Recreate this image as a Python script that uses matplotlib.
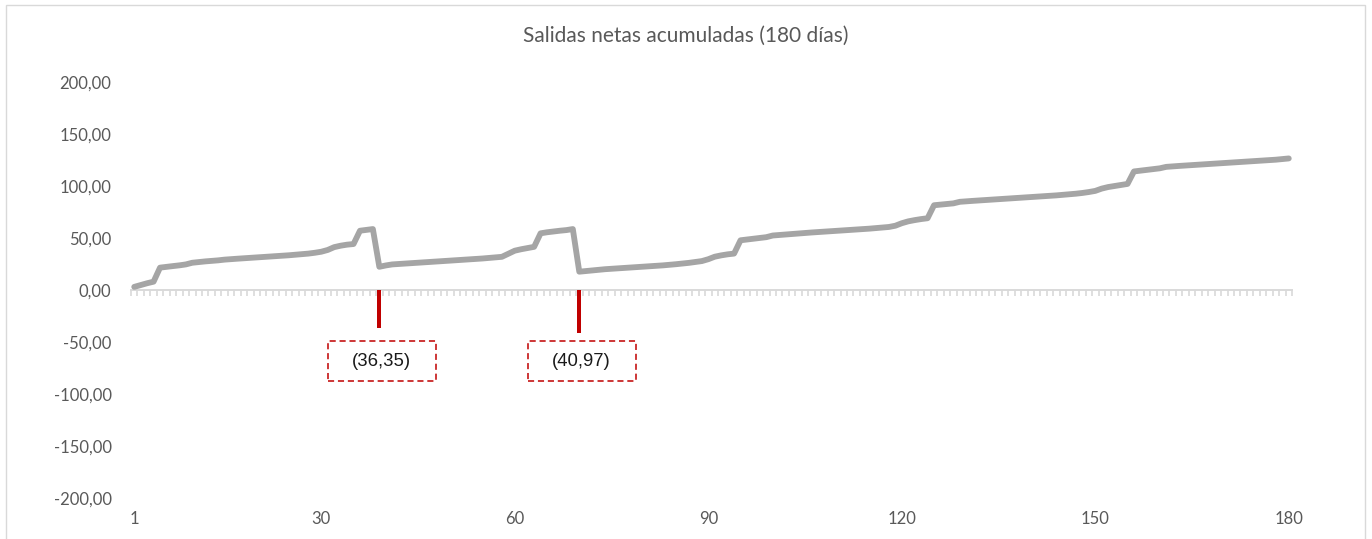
import numpy as np
import matplotlib.pyplot as plt
from matplotlib.patches import Rectangle
from matplotlib.ticker import FuncFormatter, NullFormatter

# datos
dias = np.arange(1, 181)
salidas_acum = [
    3.0, 4.8, 6.5, 8.0, 21.5, 22.3, 23.0, 23.7, 24.6, 26.2,
    26.9, 27.5, 28.0, 28.5, 29.2, 29.7, 30.1, 30.5, 30.9, 31.3,
    31.8, 32.2, 32.6, 33.0, 33.4, 33.9, 34.4, 35.0, 35.8, 36.8,
    38.5, 41.2, 42.6, 43.6, 44.2, 57.0, 57.8, 58.6, 22.3, 23.6,
    24.6, 25.0, 25.4, 25.8, 26.3, 26.7, 27.1, 27.5, 27.9, 28.3,
    28.7, 29.1, 29.5, 29.9, 30.3, 30.8, 31.3, 31.9, 34.8, 37.8,
    39.2, 40.4, 41.5, 54.5, 55.5, 56.3, 57.0, 57.6, 58.6, 17.6,
    18.2, 18.8, 19.4, 20.0, 20.4, 20.8, 21.2, 21.6, 22.0, 22.5,
    22.9, 23.3, 23.7, 24.2, 24.8, 25.4, 26.1, 26.9, 27.8, 29.6,
    32.0, 33.3, 34.3, 35.0, 47.8, 48.6, 49.3, 50.0, 50.8, 52.4,
    52.9, 53.4, 53.9, 54.4, 54.9, 55.3, 55.7, 56.1, 56.5, 56.9,
    57.3, 57.7, 58.1, 58.5, 59.0, 59.5, 60.0, 60.6, 61.8, 64.2,
    66.0, 67.2, 68.2, 69.0, 81.5, 82.1, 82.7, 83.3, 84.8, 85.3,
    85.7, 86.1, 86.5, 87.0, 87.4, 87.8, 88.2, 88.6, 89.0, 89.4,
    89.8, 90.2, 90.6, 91.0, 91.5, 92.0, 92.6, 93.3, 94.2, 95.3,
    97.5, 99.0, 100.0, 101.0, 102.0, 114.0, 114.8, 115.5, 116.2, 117.0,
    118.4, 118.9, 119.3, 119.7, 120.1, 120.5, 120.9, 121.3, 121.7, 122.1,
    122.5, 122.9, 123.3, 123.7, 124.0, 124.4, 124.8, 125.3, 125.9, 126.5,
]
caida_dias = [39, 70]
caida_valores = [-36.35, -40.97]
caida_etiquetas = ["(36,35)", "(40,97)"]
x_ticks = [1, 30, 60, 90, 120, 150, 180]
y_ticks = [-200, -150, -100, -50, 0, 50, 100, 150, 200]
titulo = "Salidas netas acumuladas (180 días)"

gris_txt = "#595959"
gris_eje = "#D9D9D9"
rojo = "#C00000"

plt.rcParams['font.family'] = ['Lato', 'DejaVu Sans']

W, H = 1372, 539
fig = plt.figure(figsize=(W / 100, H / 100), dpi=100)
ax = fig.add_axes([131 / W, 1 - 498 / H, (1292 - 131) / W, (498 - 82) / H])

ax.plot(dias, salidas_acum, color="#A5A5A5", lw=4.2,
        solid_joinstyle="round", solid_capstyle="round", zorder=3)
ax.bar(caida_dias, caida_valores, width=0.62, color=rojo, zorder=5)

# etiquetas de las caidas en cajas punteadas
px_x = (1292 - 131) / 180.0      # pixeles por dia
px_y = (498 - 82) / 400.0        # pixeles por unidad
caja_w = 108 / px_x
caja_h = 40 / px_y
etq_y = -68.3
for d, txt in zip(caida_dias, caida_etiquetas):
    cx = d + 0.35
    ax.add_patch(Rectangle((cx - caja_w / 2, etq_y - caja_h / 2), caja_w, caja_h,
                           fill=False, ec=rojo, lw=1.1, ls=(0, (4, 2.5)), zorder=6))
    ax.text(cx, etq_y, txt, ha="center", va="center", fontsize=13.3,
            family=["Liberation Sans", "DejaVu Sans"], color="#1a1a1a", zorder=7)

ax.set_xlim(0.5, 180.5)
ax.set_ylim(-200, 200)

for s in ax.spines.values():
    s.set_visible(False)

ax.set_yticks(y_ticks)
ax.yaxis.set_major_formatter(FuncFormatter(lambda v, _: f"{v:.2f}".replace(".", ",")))
ax.tick_params(axis="y", length=0, pad=14, labelsize=12, labelcolor=gris_txt)

ax.set_xticks(x_ticks)
ax.tick_params(axis="x", length=0, pad=9, labelsize=12, labelcolor=gris_txt)

# eje de categorias en y=0
eje0 = ax.secondary_xaxis(0.5)
for s in eje0.spines.values():
    s.set_color(gris_eje)
    s.set_linewidth(1.4)
eje0.set_xticks(np.arange(0.5, 181, 1))
eje0.xaxis.set_major_formatter(NullFormatter())
eje0.tick_params(axis="x", which="both", direction="in", length=4, width=1.2,
                 color=gris_eje, labeltop=False, labelbottom=False)
eje0.set_zorder(1)

fig.text(0.5, 1 - 36 / H, titulo, ha="center", va="center", fontsize=15, color=gris_txt)

# borde del area del grafico
fig.add_artist(Rectangle((6 / W, -0.05), (1365 - 6) / W, 1.05 - 5 / H,
                         transform=fig.transFigure, fill=False, ec=gris_eje, lw=1))

fig.savefig("out.png", dpi=100)
